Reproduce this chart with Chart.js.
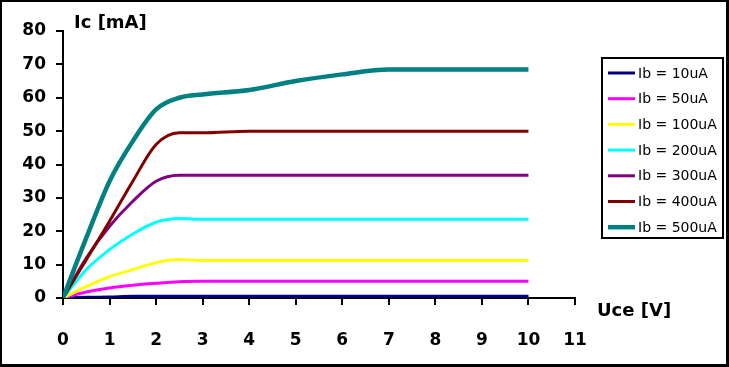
<!DOCTYPE html>
<html>
<head>
<meta charset="utf-8">
<script src="https://cdn.jsdelivr.net/npm/chart.js@4"></script>
<style>
  body { margin: 0; background: #fff; }
  #wrap { width: 729px; height: 367px; }
</style>
</head>
<body>
<div id="wrap"><canvas id="chart" width="729" height="367"></canvas></div>
<script>
const uce = [0, 0.5, 1, 1.5, 2, 2.5, 3, 4, 5, 6, 7, 8, 9, 10];

const ib10  = [0, 0.2, 0.3, 0.5, 0.5, 0.5, 0.5, 0.5, 0.5, 0.5, 0.5, 0.5, 0.5, 0.5];
const ib50  = [0, 1.8, 3, 3.8, 4.4, 4.9, 5, 5, 5, 5, 5, 5, 5, 5];
const ib100 = [0, 3.4, 6.4, 8.5, 10.6, 11.5, 11.2, 11.2, 11.2, 11.2, 11.2, 11.2, 11.2, 11.2];
const ib200 = [0, 8.5, 14.5, 19.2, 22.7, 23.8, 23.6, 23.6, 23.6, 23.6, 23.6, 23.6, 23.6, 23.6];
const ib300 = [0, 12, 21.5, 29, 35, 36.8, 36.8, 36.8, 36.8, 36.8, 36.8, 36.8, 36.8, 36.8];
const ib400 = [0, 11.5, 23, 35, 46, 49.5, 49.5, 50, 50, 50, 50, 50, 50, 50];
const ib500 = [0, 18, 35, 47, 56.5, 60, 61, 62.3, 65, 67, 68.5, 68.5, 68.5, 68.5];

const seriesLabels = ['Ib = 10uA', 'Ib = 50uA', 'Ib = 100uA', 'Ib = 200uA', 'Ib = 300uA', 'Ib = 400uA', 'Ib = 500uA'];
const seriesValues = [ib10, ib50, ib100, ib200, ib300, ib400, ib500];
const colors = ['#000080', '#ff00ff', '#ffff00', '#00ffff', '#800080', '#800000', '#008080'];
const widths = [3, 3, 3, 3, 3, 3, 4.5];

const xTicks = [0, 1, 2, 3, 4, 5, 6, 7, 8, 9, 10, 11];

const tickFont = { family: 'DejaVu Sans', size: 17, weight: 'bold' };

// frame, axis titles and legend box like the Excel chart
const decor = {
    id: 'decor',
    afterDraw(c) {
        const ctx = c.ctx;
        ctx.save();
        ctx.fillStyle = '#000';
        ctx.fillRect(0, 0, 729, 2);
        ctx.fillRect(0, 0, 2, 367);
        ctx.fillRect(726, 0, 3, 367);
        ctx.fillRect(0, 364, 729, 3);

        ctx.font = 'bold 18px "DejaVu Sans"';
        ctx.textBaseline = 'middle';
        ctx.textAlign = 'left';
        ctx.fillText('Ic [mA]', 74, 23);
        ctx.fillText('Uce [V]', 597, 311);

        ctx.lineWidth = 2;
        ctx.strokeStyle = '#000';
        ctx.strokeRect(602, 58, 121, 180);
        ctx.font = '14px "DejaVu Sans"';
        c.data.datasets.forEach((ds, i) => {
            const y = 73 + i * 25.7;
            ctx.strokeStyle = ds.borderColor;
            ctx.lineWidth = ds.borderWidth;
            ctx.beginPath();
            ctx.moveTo(608, y);
            ctx.lineTo(635, y);
            ctx.stroke();
            ctx.fillStyle = '#000';
            ctx.fillText(ds.label, 638, y + 1);
        });
        ctx.restore();
    }
};

new Chart(document.getElementById('chart'), {
    type: 'scatter',
    data: {
        datasets: seriesValues.map((vals, i) => ({
            label: seriesLabels[i],
            data: uce.map((x, j) => ({ x: x, y: vals[j] })),
            showLine: true,
            borderColor: colors[i],
            backgroundColor: colors[i],
            borderWidth: widths[i],
            pointRadius: 0,
            cubicInterpolationMode: 'monotone',
            order: 7 - i
        }))
    },
    options: {
        responsive: false,
        animation: false,
        layout: { padding: { left: 0, top: 31, right: 154, bottom: 0 } },
        plugins: { legend: { display: false }, tooltip: { enabled: false } },
        scales: {
            x: {
                type: 'linear',
                min: 0,
                max: 11,
                afterBuildTicks: s => { s.ticks = xTicks.map(v => ({ value: v })); },
                afterFit: s => { s.height = 69; },
                grid: { drawOnChartArea: false, color: '#000', lineWidth: 2, tickLength: 7 },
                border: { color: '#000', width: 2 },
                ticks: { color: '#000', font: tickFont, padding: 25, maxRotation: 0 }
            },
            y: {
                min: 0,
                max: 80,
                afterFit: s => { s.width = 63; },
                grid: { drawOnChartArea: false, color: '#000', lineWidth: 2, tickLength: 7 },
                border: { color: '#000', width: 2 },
                ticks: { color: '#000', font: tickFont, stepSize: 10, padding: 10 }
            }
        }
    },
    plugins: [decor]
});
</script>
</body>
</html>
